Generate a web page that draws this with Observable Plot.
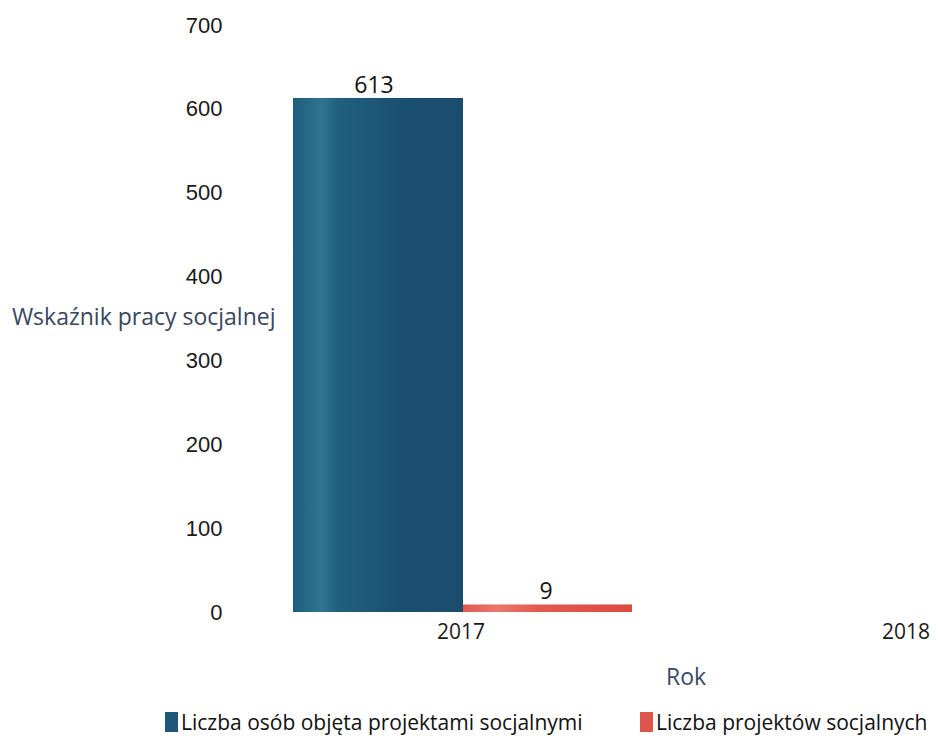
<!DOCTYPE html>
<html>
<head>
<meta charset="utf-8">
<script src="https://cdn.jsdelivr.net/npm/d3@7"></script>
<script src="https://cdn.jsdelivr.net/npm/@observablehq/plot@0.6"></script>
<style>
  body { margin: 0; background: #fff; font-family: "Open Sans", sans-serif; }
  #legend { display: flex; align-items: center; height: 32px; margin-top: 6px; margin-left: 165px; font-size: 21px; color: #111; }
  .item { display: flex; align-items: center; white-space: nowrap; }
  .sw { width: 13px; height: 20px; margin-right: 3px; }
</style>
</head>
<body>
<div id="chart"></div>
<div id="legend"></div>
<script>
const years = ["2017", "2018"];
const seriesNames = ["Liczba osób objęta projektami socjalnymi", "Liczba projektów socjalnych"];
const seriesColors = ["#1d5676", "#e0554b"];
const osoby = [613, null];
const projekty = [9, null];
const yTicks = [0, 100, 200, 300, 400, 500, 600, 700];

const data = [];
years.forEach((y, i) => {
  if (osoby[i] != null) data.push({year: y, series: seriesNames[0], value: osoby[i]});
  if (projekty[i] != null) data.push({year: y, series: seriesNames[1], value: projekty[i]});
});
const s0 = data.filter(d => d.series === seriesNames[0]);
const s1 = data.filter(d => d.series === seriesNames[1]);

const chart = Plot.plot({
  width: 941,
  height: 700,
  marginTop: 25,
  marginBottom: 88,
  marginLeft: 238,
  marginRight: 0,
  style: { fontFamily: "Open Sans, sans-serif", fontSize: "21px", color: "#1a1a1a", overflow: "visible" },
  x: { type: "band", domain: years, range: [238, 1128], padding: 0 },
  y: { domain: [0, 700], ticks: yTicks },
  marks: [
    Plot.barY(s0, { x: "year", y: "value", fill: "url(#gradBlue)", insetLeft: 55, insetRight: 220 }),
    Plot.barY(s1, { x: "year", y: "value", fill: "url(#gradRed)", insetLeft: 225, insetRight: 51 }),
    Plot.text(s0, { x: "year", y: "value", text: d => String(d.value), dx: -87, dy: -13, fontSize: 23, fill: "#111" }),
    Plot.text(s1, { x: "year", y: "value", text: d => String(d.value), dx: 85, dy: -13, fontSize: 23, fill: "#111" }),
    Plot.axisY({ ticks: yTicks, tickSize: 0, tickPadding: 16, label: null, fontSize: 22, fontFamily: "Liberation Sans, Arial, sans-serif", fill: "#1a1a1a" }),
    Plot.axisX({ tickSize: 0, tickPadding: 12, label: null, fontSize: 21, fill: "#1a1a1a" }),
    Plot.text(["Wskaźnik pracy socjalnej"], { frameAnchor: "left", text: d => d, textAnchor: "end", dx: 37, dy: -1, fontSize: 23, fill: "#3a4560" }),
    Plot.text(["Rok"], { frameAnchor: "bottom", text: d => d, dx: 96, dy: 72, fontSize: 23, fill: "#3c4a66" })
  ]
});

const svg = d3.select(chart);
const defs = svg.insert("defs", ":first-child");
const gb = defs.append("linearGradient").attr("id", "gradBlue").attr("x1", "0").attr("x2", "1").attr("y1", "0").attr("y2", "0");
[["0%", "#1f5e7e"], ["10%", "#276b89"], ["17%", "#2f7493"], ["26%", "#22607f"], ["45%", "#1d5778"], ["65%", "#1a4f71"], ["100%", "#1b4c6e"]]
  .forEach(([o, c]) => gb.append("stop").attr("offset", o).attr("stop-color", c));
const gr = defs.append("linearGradient").attr("id", "gradRed").attr("x1", "0").attr("x2", "1").attr("y1", "0").attr("y2", "0");
[["0%", "#e05a50"], ["20%", "#ea776c"], ["45%", "#e25a50"], ["100%", "#dc4a42"]]
  .forEach(([o, c]) => gr.append("stop").attr("offset", o).attr("stop-color", c));

document.getElementById("chart").appendChild(chart);

const legend = d3.select("#legend");
seriesNames.forEach((name, i) => {
  const item = legend.append("div").attr("class", "item").style("width", i === 0 ? "475px" : null);
  item.append("div").attr("class", "sw").style("background", seriesColors[i]);
  item.append("span").text(name);
});
</script>
</body>
</html>
